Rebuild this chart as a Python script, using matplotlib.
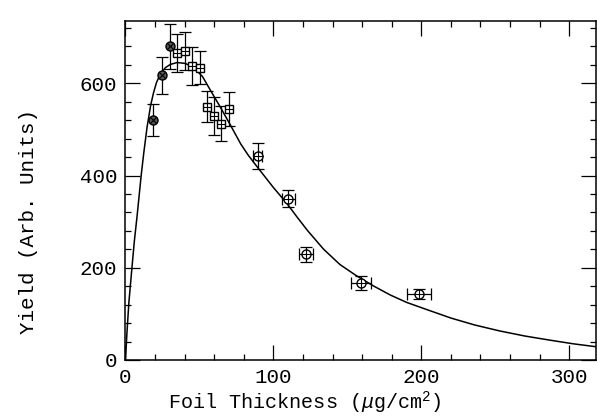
import numpy as np
import matplotlib.pyplot as plt
from matplotlib.ticker import MultipleLocator

plt.rcParams['font.family'] = 'Liberation Mono'
plt.rcParams['mathtext.fontset'] = 'custom'
plt.rcParams['mathtext.rm'] = 'Liberation Mono'
plt.rcParams['mathtext.it'] = 'Liberation Mono:italic'
plt.rcParams['mathtext.bf'] = 'Liberation Mono:bold'

# thin foils (circle with cross)
x_a = [18.7, 24.8, 30.0]
y_a = [520, 617, 680]
ye_a = [34, 40, 48]

# medium foils (square with plus)
x_b = [34.9, 39.9, 45.0, 50.2, 55.2, 60.1, 64.9, 70.3]
y_b = [665, 670, 637, 634, 549, 529, 512, 544]
ye_b = [41, 42, 41, 35, 34, 42, 38, 37]

# thick foils (circle with plus, with thickness errors)
x_c = [89.4, 110.0, 122.0, 159.2, 198.6]
y_c = [443, 350, 229, 167, 144]
ye_c = [28, 18, 16, 16, 11]
xe_c = [3, 4.5, 5, 6.5, 8.3]

# fitted curve
curve_x = [0, 1, 2.3, 4.5, 6, 7.9, 10.6, 12.4, 14.6, 17, 19, 21, 23.6, 27, 30.4, 35,
           40.5, 46, 52, 57.4, 64, 71, 78, 83, 89, 100, 109, 116, 123, 134, 145,
           156, 168, 179, 190, 204, 220, 236, 253, 270, 287, 303, 320]
curve_y = [0, 60, 125, 205, 258, 314, 400, 450, 505, 552, 580, 602, 620, 634, 641, 645,
           643, 634, 615, 585, 549, 509, 468, 444, 419, 374, 340, 310, 281, 240, 207,
           183, 160, 141, 125, 109, 91, 76, 63, 52, 43, 35, 28]

fig = plt.figure(figsize=(5.97, 4.17), dpi=100)
ax = fig.add_axes([0.2102, 0.1367, 0.998 - 0.2102, 0.9496 - 0.1367])

ax.plot(curve_x, curve_y, color='black', lw=1.1)

ebk = dict(fmt='none', ecolor='black', elinewidth=0.9, capsize=4, capthick=0.9)
ax.errorbar(x_a, y_a, yerr=ye_a, **ebk)
ax.errorbar(x_b, y_b, yerr=ye_b, **ebk)
ax.errorbar(x_c, y_c, yerr=ye_c, xerr=xe_c, **ebk)

ax.plot(x_a, y_a, 'o', ms=6.5, mfc='#555555', mec='black', mew=1.0, ls='none')
ax.plot(x_a, y_a, 'x', ms=4, color='black', mew=0.8, ls='none')
ax.plot(x_b, y_b, 's', ms=6, mfc='white', mec='black', mew=1.0, ls='none')
ax.plot(x_b, y_b, '+', ms=6, color='black', mew=0.8, ls='none')
ax.plot(x_c, y_c, 'o', ms=6.5, mfc='white', mec='black', mew=1.0, ls='none')
ax.plot(x_c, y_c, '+', ms=6.5, color='black', mew=0.8, ls='none')

ax.set_xlim(0, 318)
ax.set_ylim(0, 735)
ax.xaxis.set_major_locator(MultipleLocator(100))
ax.xaxis.set_minor_locator(MultipleLocator(20))
ax.yaxis.set_major_locator(MultipleLocator(200))
ax.yaxis.set_minor_locator(MultipleLocator(40))
ax.tick_params(which='both', direction='in', top=True, right=True, labelsize=15, width=0.9)
ax.tick_params(which='major', length=11, pad=6)
ax.tick_params(which='minor', length=4)
for s in ax.spines.values():
    s.set_linewidth(1.1)

ax.set_xlabel(r'Foil Thickness ($\mu$g/cm$^2$)', fontsize=14.5, ha='left')
ax.xaxis.set_label_coords(0.091, -0.088)
ax.set_ylabel('Yield (Arb. Units)', fontsize=15)
ax.yaxis.set_label_coords(-0.186, 0.41)

fig.savefig('out.png', dpi=100)
